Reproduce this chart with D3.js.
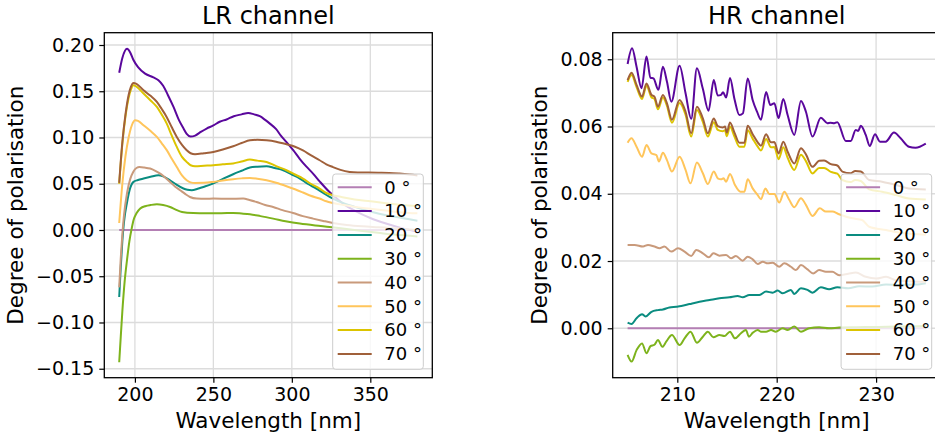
<!DOCTYPE html>
<html>
<head>
<meta charset="utf-8">
<script src="https://cdn.jsdelivr.net/npm/d3@7"></script>
<style>
body { margin: 0; background: #fff; }
svg { display: block; font-family: "DejaVu Sans", sans-serif; }
</style>
</head>
<body>
<svg id="chart" width="935" height="436"></svg>
<script>
// Legend labels and line colours, one per angle
var angles = ["0 °", "10 °", "20 °", "30 °", "40 °", "50 °", "60 °", "70 °"];
var colours = ["#b47fb4", "#5a079c", "#0a8c80", "#7db31c", "#c99a7b", "#ffc55b", "#dcc400", "#a0603a"];

// Tick values
var lr_ticks_x = [200, 250, 300, 350];
var lr_ticks_y = [-0.15, -0.10, -0.05, 0.00, 0.05, 0.10, 0.15, 0.20];
var hr_ticks_x = [210, 220, 230];
var hr_ticks_y = [0.00, 0.02, 0.04, 0.06, 0.08];

// LR channel, [wavelength, degree of polarisation]
var lr_0 = [[190, 0], [380, 0]];
var lr_10 = [[190,0.170],[192,0.186],[195,0.196],[197,0.192],[199,0.184],[202,0.176],[206.5,0.169],[211.8,0.165],[215,0.162],[218,0.156],[221,0.146],[224.6,0.133],[228,0.119],[230.9,0.110],[233,0.104],[235.5,0.101],[238.4,0.102],[242,0.106],[245.7,0.1097],[250,0.113],[254,0.117],[258.4,0.1195],[263,0.123],[268,0.125],[272.2,0.1266],[276,0.125],[279.6,0.123],[283,0.119],[286,0.115],[290,0.109],[293,0.102],[296.6,0.095],[301,0.086],[305,0.077],[309,0.069],[313.5,0.061],[318,0.052],[324,0.041],[328,0.035],[333,0.028],[340,0.021],[350,0.013],[360,0.007],[370,0.002],[380,-0.002]];
var lr_20 = [[190,-0.0725],[191,-0.04],[192,-0.012],[193,0.008],[195,0.030],[196.6,0.043],[199.1,0.052],[202,0.054],[205.5,0.0556],[210,0.0575],[215,0.0592],[218,0.058],[222.4,0.0538],[226.5,0.049],[230.9,0.0448],[233.5,0.0435],[236.2,0.043],[240,0.0445],[243.6,0.0465],[248,0.049],[252.1,0.052],[257,0.056],[262.6,0.0603],[268,0.064],[273.3,0.0675],[278,0.0685],[283.9,0.069],[289,0.067],[294.5,0.0646],[300,0.060],[305.1,0.0556],[310,0.050],[315.6,0.0448],[320,0.040],[324.1,0.0357],[330,0.031],[340,0.025],[350,0.020],[360,0.016],[370,0.013],[380,0.010]];
var lr_30 = [[190,-0.143],[191,-0.115],[192,-0.088],[193.5,-0.055],[195,-0.032],[196.5,-0.012],[198,0.002],[199.1,0.0105],[201,0.018],[203.4,0.0232],[207,0.026],[210,0.027],[214,0.0278],[218,0.027],[222.4,0.0249],[226,0.022],[230,0.0195],[237.2,0.0184],[245,0.0182],[255,0.0182],[262.6,0.0184],[268,0.0178],[273.3,0.017],[280,0.015],[288.1,0.0123],[296,0.0095],[305.1,0.0069],[315,0.0048],[324.1,0.0032],[335,0.001],[345,-0.001],[355,-0.003],[365,-0.005],[380,-0.007]];
var lr_40 = [[190,-0.062],[191,-0.03],[192,-0.005],[193,0.015],[195,0.040],[197,0.055],[199,0.063],[201,0.067],[202.9,0.068],[206,0.0675],[209.7,0.0664],[213,0.064],[216.1,0.061],[219,0.057],[222.4,0.052],[225.5,0.047],[228.8,0.043],[232,0.039],[235.1,0.0357],[239.4,0.034],[245,0.0338],[250,0.034],[260,0.0338],[269,0.034],[273,0.0325],[277.5,0.0303],[283,0.027],[288.1,0.0249],[294,0.0215],[300.8,0.0184],[307,0.015],[313.5,0.0123],[320,0.0098],[326.2,0.0076],[335,0.0055],[345,0.004],[355,0.003],[365,0.002],[380,0.000]];
var lr_50 = [[190,0.0076],[192,0.05],[194,0.08],[196,0.100],[198,0.113],[200.2,0.1187],[202,0.118],[205.5,0.1133],[210,0.107],[214,0.1006],[217,0.094],[220.3,0.0863],[223.5,0.077],[226.7,0.068],[230,0.059],[233,0.0538],[235.5,0.0515],[238.3,0.0509],[244,0.051],[250,0.052],[256,0.0535],[262.6,0.0549],[268,0.0558],[273.3,0.0563],[278,0.0555],[283.9,0.0538],[290,0.051],[296.6,0.0473],[302,0.044],[307.1,0.0405],[312,0.037],[317.7,0.034],[322,0.031],[326.2,0.0292],[333,0.027],[340,0.025],[350,0.023],[360,0.021],[370,0.019],[380,0.018]];
var lr_60 = [[190,0.050],[192,0.093],[194,0.123],[196,0.143],[197.5,0.152],[199,0.1566],[201,0.155],[205.5,0.1476],[210,0.140],[214,0.133],[217,0.125],[220.3,0.115],[223.5,0.102],[226.7,0.0898],[230,0.079],[233,0.0736],[235.5,0.070],[238.3,0.069],[244,0.0695],[250,0.070],[256,0.071],[262.6,0.0719],[268,0.074],[273.3,0.0762],[278,0.075],[283.9,0.0736],[290,0.069],[296.6,0.0646],[302,0.060],[307.1,0.0556],[312,0.050],[317.7,0.0448],[322,0.040],[326.2,0.0376],[331,0.036],[340,0.033],[350,0.031],[360,0.029],[370,0.027],[380,0.026]];
var lr_70 = [[190,0.051],[192,0.095],[194,0.125],[196,0.146],[197.5,0.155],[199.1,0.159],[201,0.158],[205.5,0.151],[210,0.145],[214,0.1385],[217,0.131],[220.3,0.122],[223.5,0.111],[226.7,0.1006],[230,0.092],[233,0.0863],[235.5,0.083],[238.3,0.0819],[244,0.083],[250,0.0844],[256,0.087],[262.6,0.0906],[268,0.094],[273.3,0.097],[278,0.0975],[283.9,0.097],[290,0.0955],[296.6,0.0927],[302,0.090],[307.1,0.086],[312,0.081],[317.7,0.0754],[322,0.071],[326.2,0.068],[331,0.065],[336.8,0.0628],[342,0.0622],[347.4,0.0621],[355,0.0619],[362,0.0617],[368.5,0.061],[375,0.060],[380,0.059]];

// HR channel, [wavelength, degree of polarisation]
var hr_0 = [[205, 0], [235, 0]];
var hr_10 = [[205,0.0786],[205.45,0.0833],[205.9,0.0778],[206.4,0.0714],[206.9,0.0808],[207.3,0.0745],[207.6,0.0743],[208.1,0.0709],[208.55,0.0778],[208.96,0.0733],[209.4,0.0674],[210.23,0.0781],[210.83,0.0699],[211.4,0.0623],[211.97,0.0773],[212.57,0.0712],[213.14,0.0647],[213.67,0.0738],[214.07,0.0692],[214.4,0.0694],[214.6,0.0702],[214.91,0.0686],[215.3,0.0744],[215.75,0.0682],[216.25,0.0634],[216.6,0.0639],[217.08,0.0743],[217.58,0.0679],[218.02,0.0644],[218.42,0.062],[218.93,0.0703],[219.36,0.0664],[219.76,0.0669],[220.19,0.0625],[220.66,0.0682],[221.1,0.0634],[221.77,0.0575],[222.44,0.0676],[222.94,0.0644],[223.6,0.057],[224.44,0.0626],[225.1,0.061],[225.4,0.0611],[225.78,0.061],[226.1,0.0613],[226.95,0.0557],[227.45,0.0557],[227.95,0.059],[228.2,0.0587],[228.46,0.0602],[228.96,0.0575],[229.36,0.0542],[229.89,0.0577],[230.39,0.0555],[230.96,0.0555],[231.8,0.0582],[232.47,0.0565],[233.3,0.054],[233.97,0.0537],[235,0.0549]];
var hr_20 = [[205,0.0017],[205.4,0.0013],[205.9,0.003],[206.45,0.0042],[206.8,0.0035],[207.4,0.0049],[208.05,0.0054],[208.55,0.0056],[209.2,0.0062],[209.9,0.0064],[210.4,0.0066],[211.23,0.0072],[212.24,0.0079],[213.24,0.0084],[214.24,0.0089],[215.25,0.0092],[216.08,0.0096],[216.58,0.0092],[217.25,0.0099],[218.26,0.0099],[218.93,0.0109],[219.6,0.0106],[220.1,0.0112],[220.6,0.0104],[221.43,0.0114],[221.77,0.0102],[222.44,0.0119],[223.1,0.0114],[223.6,0.0106],[224.44,0.0122],[225.27,0.0116],[226.1,0.0122],[227.2,0.0119],[228.3,0.0125],[229.6,0.0124],[231,0.013],[232.3,0.0129],[234,0.013],[235,0.0134]];
var hr_30 = [[205,-0.0079],[205.4,-0.0099],[205.9,-0.0065],[206.45,-0.0045],[206.9,-0.0074],[207.3,-0.0053],[207.7,-0.0049],[208.05,-0.0035],[208.5,-0.0055],[208.9,-0.0039],[209.46,-0.002],[210.23,-0.005],[210.73,-0.003],[211.33,-0.001],[211.97,-0.0043],[212.57,-0.0025],[213.07,-0.001],[213.63,-0.0027],[214.24,-0.002],[214.74,-0.0023],[215.3,-0.001],[215.8,-0.003],[216.4,-0.0015],[216.9,-0.0005],[217.2,-0.0025],[217.6,-0.0013],[218.09,-0.0005],[218.4,-0.001],[218.93,-0.001],[219.43,-0.0005],[219.9,-0.001],[220.6,0.0],[221.1,-0.0005],[221.77,0.0005],[222.44,-0.001],[223.27,0.0],[224.27,0.0003],[225.27,0.0],[226.3,0.0002],[228,0.0003],[230,0.0004],[232,0.0005],[235,0.0007]];
var hr_40 = [[205,0.0248],[205.7,0.0248],[206.55,0.0243],[207.05,0.0248],[207.7,0.0243],[208.22,0.0238],[208.7,0.0243],[209.4,0.0228],[210.07,0.0238],[210.73,0.0228],[211.4,0.0215],[211.9,0.0233],[212.57,0.0223],[213.17,0.0211],[213.63,0.0223],[214.24,0.0216],[214.9,0.0218],[215.41,0.0208],[215.9,0.0215],[216.58,0.0201],[217.08,0.0213],[217.58,0.0205],[218.09,0.0191],[218.6,0.0198],[219.1,0.0193],[219.6,0.0195],[220.26,0.0183],[220.76,0.0193],[221.43,0.0183],[221.93,0.0173],[222.44,0.0188],[223.1,0.0175],[223.67,0.0163],[224.27,0.0173],[224.94,0.0168],[225.6,0.0168],[226.28,0.0158],[227.2,0.0162],[227.95,0.0166],[228.96,0.0153],[230,0.0148],[231,0.0153],[232,0.0143],[233.3,0.014],[235,0.0138]];
var hr_50 = [[205,0.0552],[205.39,0.0565],[205.9,0.054],[206.45,0.051],[206.9,0.0545],[207.4,0.052],[207.9,0.0515],[208.15,0.0496],[208.55,0.0522],[208.96,0.05],[209.46,0.0466],[210.23,0.051],[210.83,0.0471],[211.33,0.0431],[211.97,0.0493],[212.57,0.0461],[213.07,0.0429],[213.67,0.0466],[214.07,0.0446],[214.4,0.0443],[214.65,0.0446],[214.91,0.0436],[215.3,0.0459],[215.8,0.0426],[216.35,0.0406],[216.75,0.0406],[217.08,0.0443],[217.58,0.0416],[218.09,0.0396],[218.42,0.0384],[218.86,0.0416],[219.26,0.0399],[219.76,0.0399],[220.26,0.0374],[220.76,0.0406],[221.26,0.0382],[221.77,0.036],[222.44,0.0387],[222.94,0.0367],[223.6,0.0334],[224.34,0.0357],[224.94,0.0347],[225.6,0.0347],[226.2,0.034],[227.6,0.0327],[228.6,0.0322],[229.3,0.0302],[231,0.0292],[232.6,0.0283],[235,0.0278]];
var hr_60 = [[205,0.0733],[205.4,0.0753],[205.9,0.0717],[206.45,0.0682],[206.9,0.0721],[207.4,0.0687],[207.7,0.0682],[208.05,0.0651],[208.55,0.0686],[208.96,0.0661],[209.46,0.0611],[210.23,0.067],[210.83,0.0635],[211.4,0.057],[211.97,0.0649],[212.57,0.0614],[213.07,0.057],[213.67,0.0613],[214.07,0.059],[214.57,0.0586],[214.8,0.0589],[214.98,0.0571],[215.3,0.06],[215.75,0.057],[216.25,0.054],[216.75,0.054],[217.08,0.0589],[217.58,0.0564],[218.09,0.054],[218.42,0.0529],[218.93,0.0563],[219.43,0.0538],[219.76,0.0539],[220.19,0.0503],[220.66,0.0538],[221.1,0.0507],[221.77,0.0471],[222.44,0.0516],[222.94,0.0497],[223.6,0.046],[224.27,0.0477],[224.77,0.0477],[225.45,0.0465],[226.1,0.046],[226.6,0.0441],[227.45,0.0435],[227.9,0.0441],[228.46,0.0438],[229.3,0.0413],[230.6,0.0406],[232,0.0396],[233.3,0.0386],[235,0.0383]];
var hr_70 = [[205,0.0738],[205.4,0.076],[205.9,0.0724],[206.45,0.0689],[206.9,0.0728],[207.4,0.0694],[207.7,0.0689],[208.05,0.0659],[208.55,0.0694],[208.96,0.0669],[209.46,0.062],[210.23,0.0679],[210.83,0.0644],[211.4,0.058],[211.97,0.0659],[212.57,0.0624],[213.07,0.058],[213.67,0.0624],[214.07,0.0601],[214.57,0.0597],[214.8,0.06],[214.98,0.0582],[215.3,0.0612],[215.75,0.0582],[216.25,0.0552],[216.75,0.0552],[217.08,0.0602],[217.58,0.0577],[218.09,0.0553],[218.42,0.0543],[218.93,0.0577],[219.43,0.0553],[219.76,0.0554],[220.19,0.052],[220.66,0.0555],[221.1,0.0525],[221.77,0.049],[222.44,0.0535],[222.94,0.0517],[223.6,0.048],[224.27,0.0498],[224.77,0.0499],[225.45,0.0488],[226.1,0.0484],[226.6,0.0466],[227.45,0.0461],[227.9,0.0468],[228.46,0.0466],[229.3,0.0441],[230.6,0.0436],[232,0.0426],[233.3,0.0416],[235,0.0413]];

var lr_series = [lr_0, lr_10, lr_20, lr_30, lr_40, lr_50, lr_60, lr_70];
var hr_series = [hr_0, hr_10, hr_20, hr_30, hr_40, hr_50, hr_60, hr_70];

function minus_format(fmt) {
    var f = d3.format(fmt);
    return function (d) { return f(d).replace("-", "\u2212"); };
}

function style_axis(ax) {
    ax.select(".domain").remove();
    ax.attr("font-family", null).attr("font-size", null);
    ax.selectAll(".tick line").attr("stroke", "#000").attr("stroke-width", 1.2);
    ax.selectAll(".tick text").attr("fill", "#000").style("font-size", "19px");
}

function draw_panel(svg, p) {
    var x = d3.scaleLinear().domain(p.x_domain).range([p.left, p.right]);
    var y = d3.scaleLinear().domain(p.y_domain).range([p.bottom, p.top]);
    var g = svg.append("g");

    // grid
    g.selectAll(".xgrid").data(p.x_ticks).enter().append("line")
        .attr("x1", function (d) { return x(d); })
        .attr("x2", function (d) { return x(d); })
        .attr("y1", p.top).attr("y2", p.bottom)
        .attr("stroke", "#dcdcdc").attr("stroke-width", 1.3);
    g.selectAll(".ygrid").data(p.y_ticks).enter().append("line")
        .attr("x1", p.left).attr("x2", p.right)
        .attr("y1", function (d) { return y(d); })
        .attr("y2", function (d) { return y(d); })
        .attr("stroke", "#dcdcdc").attr("stroke-width", 1.3);

    // curves
    var line = d3.line()
        .x(function (d) { return x(d[0]); })
        .y(function (d) { return y(d[1]); })
        .curve(d3.curveMonotoneX);
    g.selectAll(".series").data(p.series).enter().append("path")
        .attr("d", line)
        .attr("fill", "none")
        .attr("stroke", function (d, i) { return colours[i]; })
        .attr("stroke-width", 2);

    // frame
    g.append("rect")
        .attr("x", p.left).attr("y", p.top)
        .attr("width", p.right - p.left).attr("height", p.bottom - p.top)
        .attr("fill", "none").attr("stroke", "#000").attr("stroke-width", 1.3);

    // axes
    var xa = g.append("g").attr("transform", "translate(0," + p.bottom + ")")
        .call(d3.axisBottom(x).tickValues(p.x_ticks).tickFormat(d3.format("d"))
            .tickSize(5).tickSizeOuter(0).tickPadding(5));
    style_axis(xa);
    var ya = g.append("g").attr("transform", "translate(" + p.left + ",0)")
        .call(d3.axisLeft(y).tickValues(p.y_ticks).tickFormat(minus_format(".2f"))
            .tickSize(5).tickSizeOuter(0).tickPadding(5));
    style_axis(ya);

    // titles
    var cx = (p.left + p.right) / 2;
    g.append("text").attr("x", cx).attr("y", 24)
        .attr("text-anchor", "middle").style("font-size", "24px").text(p.title);
    g.append("text").attr("x", cx).attr("y", 427.5)
        .attr("text-anchor", "middle").style("font-size", "21.5px").text("Wavelength [nm]");
    g.append("text")
        .attr("transform", "translate(" + p.ylabel_x + "," + ((p.top + p.bottom) / 2) + ") rotate(-90)")
        .attr("text-anchor", "middle").style("font-size", "21.5px").text("Degree of polarisation");

    // legend, lower right
    var lw = 90.6, lh = 195.3;
    var lx = p.right - 9 - lw, ly = p.bottom - 8.4 - lh;
    var legend = g.append("g").attr("transform", "translate(" + lx + "," + ly + ")");
    legend.append("rect")
        .attr("width", lw).attr("height", lh).attr("rx", 3)
        .attr("fill", "#fff").attr("fill-opacity", 0.8)
        .attr("stroke", "#cccccc").attr("stroke-width", 1);
    var rows = legend.selectAll(".row").data(angles).enter().append("g")
        .attr("transform", function (d, i) { return "translate(0," + (13.3 + i * 23.8) + ")"; });
    rows.append("line")
        .attr("x1", 5).attr("x2", 39)
        .attr("stroke", function (d, i) { return colours[i]; })
        .attr("stroke-width", 2);
    rows.append("text")
        .attr("x", 51.6).attr("dy", "0.35em")
        .style("font-size", "18px").text(function (d) { return d; });
}

var svg = d3.select("#chart");

draw_panel(svg, {
    left: 104.3, right: 432.3, top: 32.7, bottom: 377.7,
    x_domain: [180.5, 389.5], y_domain: [-0.1597, 0.2133],
    x_ticks: lr_ticks_x, y_ticks: lr_ticks_y,
    series: lr_series, title: "LR channel", ylabel_x: 23.3
});

draw_panel(svg, {
    left: 612.7, right: 940.7, top: 32.7, bottom: 377.7,
    x_domain: [203.5, 236.5], y_domain: [-0.0147, 0.0879],
    x_ticks: hr_ticks_x, y_ticks: hr_ticks_y,
    series: hr_series, title: "HR channel", ylabel_x: 546.7
});
</script>
</body>
</html>
